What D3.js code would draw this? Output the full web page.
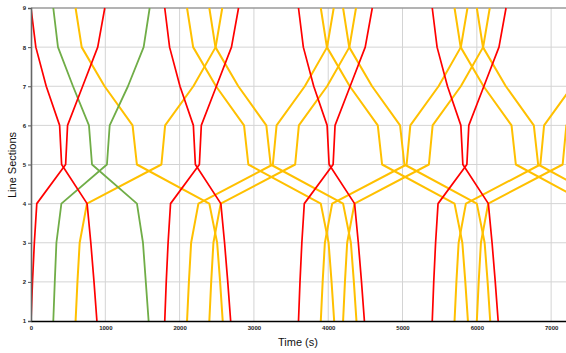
<!DOCTYPE html>
<html>
<head>
<meta charset="utf-8">
<script src="https://cdn.jsdelivr.net/npm/d3@7"></script>
<style>
  body { margin: 0; background: #fff; }
  svg { display: block; font-family: "Liberation Sans", Arial, sans-serif; }
</style>
</head>
<body>
<div id="chart"></div>
<script>
// line sections and time ticks
const sections = [1, 2, 3, 4, 5, 6, 7, 8, 9];
const timeTicks = [0, 1000, 2000, 3000, 4000, 5000, 6000, 7000];

// running times (s after departure) at section 1..9
const redUpRun = [0, 20, 45, 78, 466, 492, 695, 898, 993];
const redDownRun = [887, 848, 805, 755, 412, 385, 205, 65, 0];
const greenUpRun = [0, 20, 42, 109, 722, 759, 1005, 1216, 1297];
const greenDownRun = [1283, 1245, 1207, 1126, 521, 480, 265, 63, 0];
const yellowUpRun = [0, 25, 55, 153, 1155, 1205, 1585, 1885, 1974];
const yellowDownRun = [1980, 1945, 1905, 1800, 825, 767, 390, 82, 0];

// departure times (s)
const redUpStart = [0, 1800, 3600, 5400];
const redDownStart = [0, 1800, 3600, 5400];
const greenUpStart = [300];
const greenDownStart = [300];
const yellowUpStart = [600, 2100, 2400, 3900, 4200, 5700, 6000];
const yellowDownStart = [600, 2100, 2400, 3900, 4200, 5700, 6000];

const margin = {top: 8, right: 0, bottom: 32, left: 31};
const width = 566 - margin.left - margin.right;
const height = 353 - margin.top - margin.bottom;

const svg = d3.select("#chart")
  .append("svg")
    .attr("width", 566)
    .attr("height", 353)
  .append("g")
    .attr("transform", "translate(" + margin.left + "," + margin.top + ")");

const x = d3.scaleLinear().domain([0, 7200]).range([0, width]);
const y = d3.scaleLinear().domain([1, 9]).range([height, 0]);

// grid
svg.append("g")
  .selectAll("line")
  .data(timeTicks.slice(1))
  .enter().append("line")
    .attr("x1", d => x(d)).attr("x2", d => x(d))
    .attr("y1", 0).attr("y2", height)
    .style("stroke", "#d4d4d4").style("stroke-width", 1);

svg.append("g")
  .selectAll("line")
  .data(sections.slice(1, -1))
  .enter().append("line")
    .attr("x1", 0).attr("x2", width)
    .attr("y1", d => y(d)).attr("y2", d => y(d))
    .style("stroke", "#d4d4d4").style("stroke-width", 1);

// top border
svg.append("line")
  .attr("x1", 0).attr("x2", width)
  .attr("y1", 0).attr("y2", 0)
  .style("stroke", "#9a9a9a").style("stroke-width", 1.5);

svg.append("clipPath").attr("id", "plot-clip")
  .append("rect").attr("x", 0).attr("y", -2).attr("width", width).attr("height", height + 4);

const line = d3.line().x(d => x(d.t)).y(d => y(d.s));

function trains(starts, run, up) {
  return starts.map(t0 => sections.map((s, i) => ({s: s, t: t0 + run[i]})));
}

const groups = [
  {color: "#ffc000", w: 2, data: trains(yellowUpStart, yellowUpRun).concat(trains(yellowDownStart, yellowDownRun))},
  {color: "#70ad47", w: 1.8, data: trains(greenUpStart, greenUpRun).concat(trains(greenDownStart, greenDownRun))},
  {color: "#ff0000", w: 1.7, data: trains(redUpStart, redUpRun).concat(trains(redDownStart, redDownRun))}
];

const lines = svg.append("g").attr("clip-path", "url(#plot-clip)");
groups.forEach(g => {
  lines.selectAll(null)
    .data(g.data)
    .enter().append("path")
      .attr("d", line)
      .style("fill", "none")
      .style("stroke", g.color)
      .style("stroke-width", g.w)
      .style("stroke-linejoin", "round");
});

// axes
const yAxis = svg.append("g")
  .call(d3.axisLeft(y).tickValues(sections).tickFormat(d3.format("d")).tickSize(3).tickPadding(2));
yAxis.select(".domain").style("stroke", "#666").style("stroke-width", 1.6);
yAxis.selectAll(".tick line").style("stroke", "#555");
yAxis.selectAll("text").style("font-size", "6px").style("font-weight", "bold").style("fill", "#222");

const xAxis = svg.append("g")
  .attr("transform", "translate(0," + height + ")")
  .call(d3.axisBottom(x).tickValues(timeTicks).tickFormat(d3.format("d")).tickSize(0).tickPadding(5));
xAxis.select(".domain").style("stroke", "#000").style("stroke-width", 1.5);
xAxis.selectAll("text").style("font-size", "6px").style("font-weight", "bold").style("fill", "#222");

svg.append("text")
  .attr("x", 267)
  .attr("y", height + 25)
  .attr("text-anchor", "middle")
  .style("font-size", "11px")
  .style("fill", "#111")
  .text("Time (s)");

svg.append("text")
  .attr("transform", "rotate(-90)")
  .attr("x", -157)
  .attr("y", -15)
  .attr("text-anchor", "middle")
  .style("font-size", "11px")
  .style("fill", "#111")
  .text("Line Sections");
</script>
</body>
</html>
